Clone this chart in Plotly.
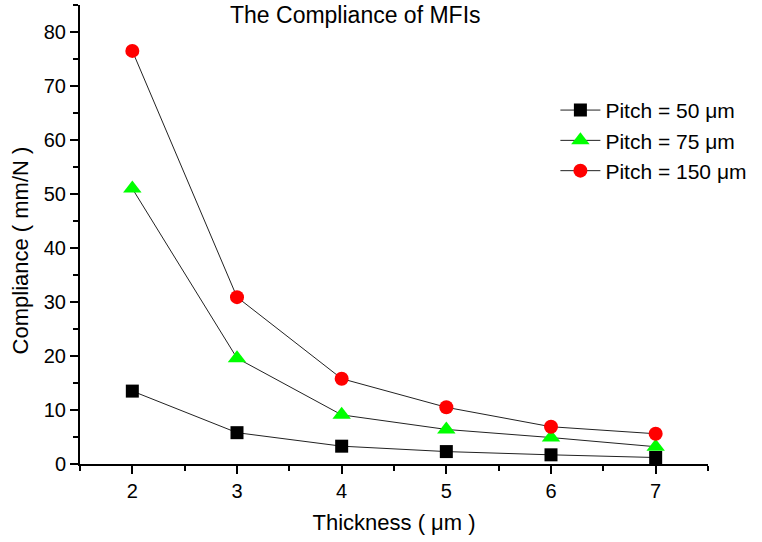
import plotly.graph_objects as go

# Film thickness (µm) and measured compliance (mm/N) for three pitches
thickness = [2, 3, 4, 5, 6, 7]
pitch_50 = [13.5, 5.8, 3.3, 2.3, 1.7, 1.2]
pitch_75 = [51.0, 19.6, 9.1, 6.4, 4.9, 3.2]
pitch_150 = [76.5, 30.9, 15.8, 10.5, 6.9, 5.6]

series = [
    ("Pitch = 50 \u03bcm", pitch_50, "square", "black", 13),
    ("Pitch = 75 \u03bcm", pitch_75, "triangle-up", "#00ff00", 16),
    ("Pitch = 150 \u03bcm", pitch_150, "circle", "red", 14),
]

FONT = "Liberation Sans, Arial, sans-serif"

fig = go.Figure()
for name, vals, symbol, color, size in series:
    fig.add_trace(go.Scatter(
        x=thickness, y=vals, name=name, mode="lines+markers",
        line=dict(color="#222222", width=1),
        marker=dict(symbol=symbol, size=size, color=color, line=dict(width=0)),
    ))

axis_common = dict(
    showline=True, linecolor="black", linewidth=2,
    ticks="outside", ticklen=8, tickwidth=2, tickcolor="black",
    showgrid=False, zeroline=False, mirror=False,
    tickfont=dict(family=FONT, size=20, color="black"),
)

fig.update_layout(
    width=762, height=542,
    margin=dict(l=80, r=54, t=5, b=78),
    paper_bgcolor="white", plot_bgcolor="white",
    font=dict(family=FONT, color="black"),
    showlegend=True,
    legend=dict(
        x=0.757, y=0.815, xanchor="left", yanchor="top",
        bgcolor="rgba(0,0,0,0)", font=dict(family=FONT, size=21, color="black"),
        tracegroupgap=0, itemwidth=40,
    ),
    xaxis=dict(range=[1.5, 7.5], dtick=1, tick0=2,
               title=dict(text="Thickness ( \u03bcm )", font=dict(family=FONT, size=22), standoff=14),
               minor=dict(ticks="outside", ticklen=5, tickwidth=2, tickcolor="black", dtick=0.5),
               **axis_common),
    yaxis=dict(range=[0, 85], dtick=10, tick0=0,
               minor=dict(ticks="outside", ticklen=5, tickwidth=2, tickcolor="black", dtick=5),
               **axis_common),
    annotations=[
        dict(text="The Compliance of MFIs", xref="paper", yref="paper",
             x=0.438, y=0.978, xanchor="center", yanchor="middle",
             showarrow=False, font=dict(family=FONT, size=23, color="black")),
        dict(text="Compliance ( mm/N )", xref="paper", yref="paper",
             x=-0.095, y=0.466, xanchor="center", yanchor="middle", textangle=-90,
             showarrow=False, font=dict(family=FONT, size=22, color="black")),
    ],
)

fig.write_html("out.html")
